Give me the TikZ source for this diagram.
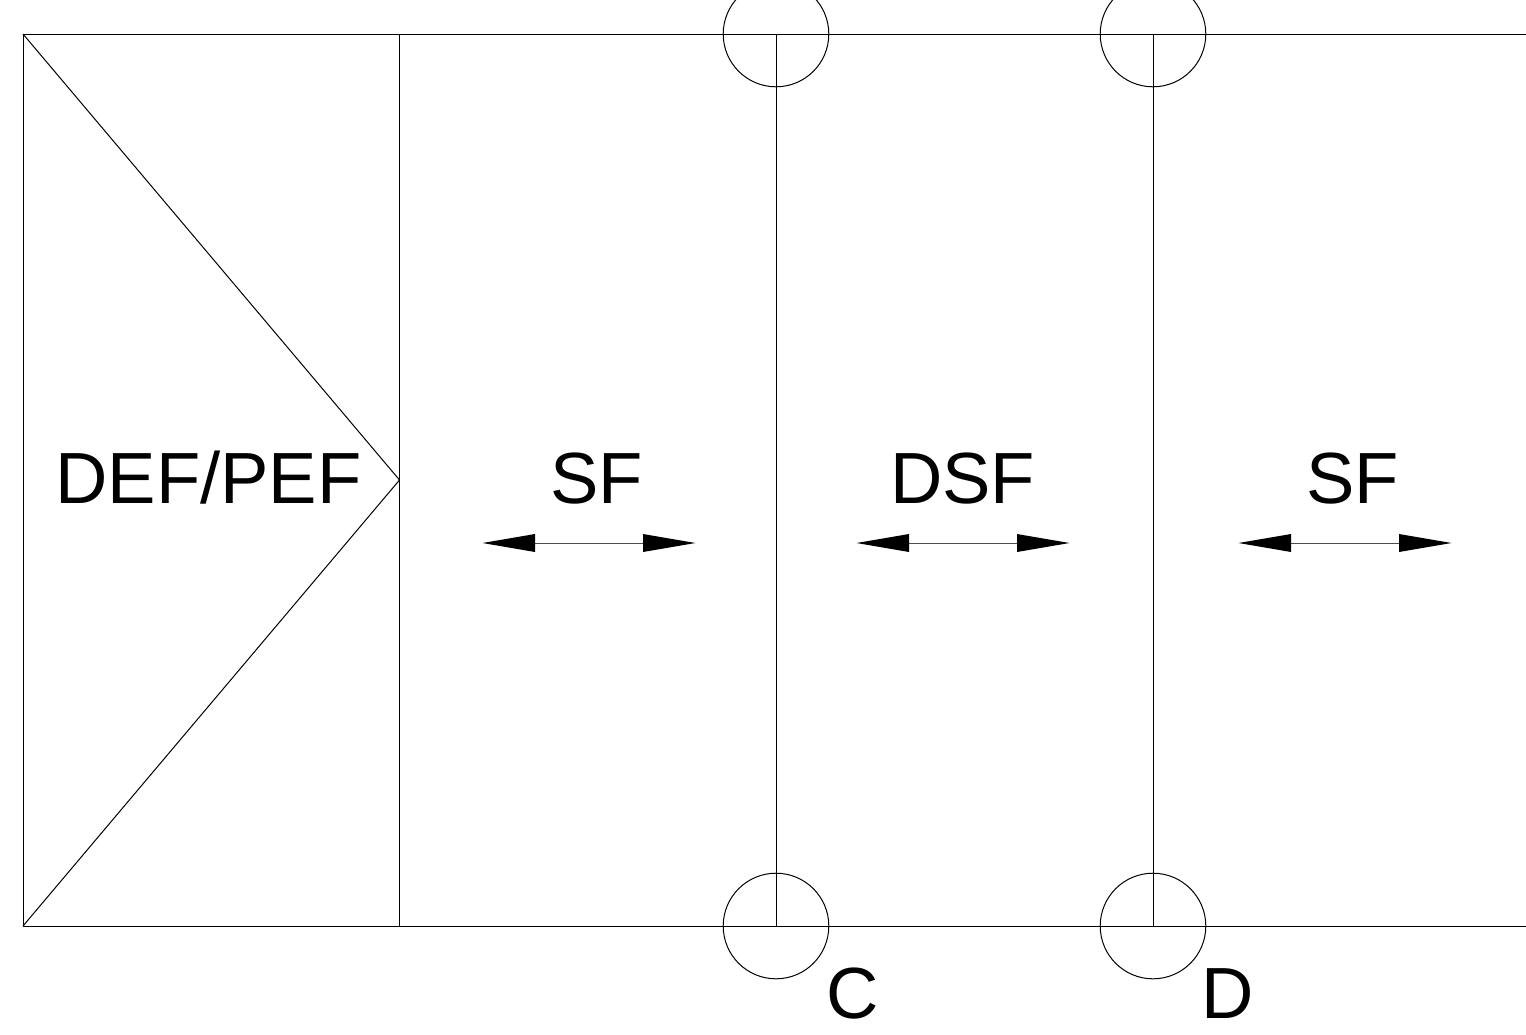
\documentclass[tikz,border=0pt]{standalone}
\usepackage{fontspec}
\setmainfont{Liberation Sans}
\begin{document}
\begin{tikzpicture}[x=1pt,y=-1pt,
  ln/.style={draw=black,line width=1pt},
  shaft/.style={draw=black!70,line width=1pt},
  lab/.style={inner sep=0pt,font=\fontsize{72.5}{72.5}\selectfont,text=black}]
\useasboundingbox (0,0) rectangle (1526,1034);
\coordinate (TL) at (23,34); \coordinate (BL) at (23,926);
\coordinate (TR) at (1526,34); \coordinate (BR) at (1526,926);
\coordinate (T1) at (399.5,34); \coordinate (B1) at (399.5,926);
\coordinate (T2) at (776,34); \coordinate (B2) at (776,926);
\coordinate (T3) at (1153,34); \coordinate (B3) at (1153,926);
\coordinate (M) at (399.5,480);
\draw[ln] (TR)--(TL)--(BL)--(BR);
\draw[ln] (T1)--(B1) (T2)--(B2) (T3)--(B3);
\draw[ln] (TL)--(M)--(BL);
\foreach \c in {T2,T3,B2,B3} \draw[ln] (\c) circle (52.8);
\node[lab,anchor=base] (def) at (208.5,503) {DEF/PEF};
\node[lab,anchor=base] (sf1) at (596.5,503) {SF};
\node[lab,anchor=base] (dsf) at (962.5,503) {DSF};
\node[lab,anchor=base] (sf2) at (1352.5,503) {SF};
\node[lab,anchor=base] (c) at (852.5,1018) {C};
\node[lab,anchor=base] (d) at (1227.5,1018) {D};
\foreach \x in {483,857,1239}{
  \draw[shaft] (\x+40,543)--(\x+172,543);
  \fill (\x-0.5,543)--(\x+52,534)--(\x+52,552)--cycle;
  \fill (\x+212.5,543)--(\x+160,534)--(\x+160,552)--cycle;
}
\end{tikzpicture}
\end{document}
